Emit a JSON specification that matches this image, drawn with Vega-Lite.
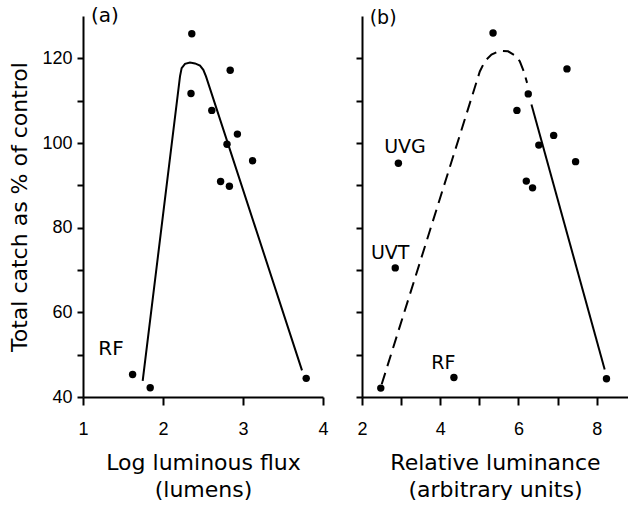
{
  "$schema": "https://vega.github.io/schema/vega-lite/v6.json",
  "background": "white",
  "padding": {"left": 8, "top": 6, "right": 0, "bottom": 0},
  "autosize": {"type": "pad"},
  "bounds": "flush",
  "spacing": 39,
  "config": {
    "view": {"stroke": null},
    "axis": {
      "domainColor": "black", "domainWidth": 2, "tickColor": "black", "tickWidth": 2,
      "labelFont": "Liberation Sans", "labelFontSize": 18, "labelColor": "black",
      "titleFont": "DejaVu Sans", "titleFontSize": 22, "titleFontWeight": "normal", "titleColor": "black",
      "grid": false
    },
    "axisX": {"tickSize": 8, "labelPadding": 15, "titlePadding": 14, "titleLineHeight": 27},
    "axisY": {"tickSize": 6, "labelPadding": 5, "titlePadding": 10},
    "text": {"font": "DejaVu Sans", "fontSize": 19, "color": "black"}
  },
  "datasets": {
    "ptsA": [
      {"x": 2.36, "y": 125.8}, {"x": 2.84, "y": 117.2}, {"x": 2.35, "y": 111.7}, {"x": 2.61, "y": 107.7},
      {"x": 2.93, "y": 102.1}, {"x": 2.80, "y": 99.7}, {"x": 3.12, "y": 95.8}, {"x": 2.72, "y": 90.9},
      {"x": 2.83, "y": 89.8}, {"x": 1.62, "y": 45.3}, {"x": 1.84, "y": 42.2}, {"x": 3.79, "y": 44.4}
    ],
    "lineA": [
      {"x": 1.746, "y": 43.8}, {"x": 2.2125, "y": 115.75}, {"x": 2.233, "y": 117.7}, {"x": 2.275, "y": 118.7},
      {"x": 2.3375, "y": 119.0}, {"x": 2.40, "y": 118.8}, {"x": 2.4625, "y": 118.3}, {"x": 2.504, "y": 117.3},
      {"x": 2.5375, "y": 115.75}, {"x": 3.7375, "y": 46.3}
    ],
    "labA": [
      {"x": 1.35, "y": 51.3, "t": "RF"}, {"x": 1.275, "y": 129.9, "t": "(a)"}
    ],
    "ptsB": [
      {"x": 5.35, "y": 126.0}, {"x": 7.24, "y": 117.5}, {"x": 6.25, "y": 111.6}, {"x": 5.96, "y": 107.7},
      {"x": 6.90, "y": 101.8}, {"x": 6.52, "y": 99.5}, {"x": 7.46, "y": 95.6}, {"x": 6.20, "y": 91.0},
      {"x": 6.36, "y": 89.4}, {"x": 2.93, "y": 95.2}, {"x": 2.85, "y": 70.5}, {"x": 4.35, "y": 44.6},
      {"x": 2.48, "y": 42.1}, {"x": 8.25, "y": 44.3}
    ],
    "dashB": [
      {"x": 2.503, "y": 43.0}, {"x": 5.012, "y": 116.9}, {"x": 5.14, "y": 119.3}, {"x": 5.31, "y": 120.9},
      {"x": 5.523, "y": 121.8}, {"x": 5.735, "y": 121.65}, {"x": 5.906, "y": 120.7}, {"x": 6.034, "y": 119.3},
      {"x": 6.136, "y": 116.9}, {"x": 6.22, "y": 114.2}
    ],
    "solidB": [
      {"x": 6.332, "y": 109.1}, {"x": 8.204, "y": 46.5}
    ],
    "labB": [
      {"x": 3.10, "y": 99.0, "t": "UVG"}, {"x": 2.72, "y": 74.0, "t": "UVT"},
      {"x": 4.08, "y": 48.1, "t": "RF"}, {"x": 2.54, "y": 129.5, "t": "(b)"}
    ]
  },
  "hconcat": [
    {
      "width": 240, "height": 381,
      "layer": [
        {
          "data": {"name": "lineA"},
          "mark": {"type": "line", "color": "black", "strokeWidth": 2},
          "encoding": {
            "x": {"field": "x", "type": "quantitative", "scale": {"domain": [1, 4], "nice": false},
                  "axis": {"values": [1, 2, 3, 4], "format": "d", "title": ["Log luminous flux", "(lumens)"], "labelFlush": false}},
            "y": {"field": "y", "type": "quantitative", "scale": {"domain": [40, 130], "nice": false, "zero": false},
                  "axis": {"values": [40, 50, 60, 70, 80, 90, 100, 110, 120],
                           "labelExpr": "datum.value % 20 == 0 ? datum.label : ''",
                           "title": "Total catch as % of control", "labelFlush": false}}
          }
        },
        {
          "data": {"name": "ptsA"},
          "mark": {"type": "circle", "color": "black", "size": 55, "opacity": 1},
          "encoding": {"x": {"field": "x", "type": "quantitative"}, "y": {"field": "y", "type": "quantitative"}}
        },
        {
          "data": {"name": "labA"},
          "mark": {"type": "text", "align": "center", "baseline": "middle", "fontSize": 20},
          "encoding": {"x": {"field": "x", "type": "quantitative"}, "y": {"field": "y", "type": "quantitative"},
                       "text": {"field": "t"}}
        }
      ]
    },
    {
      "width": 266, "height": 381,
      "layer": [
        {
          "data": {"name": "dashB"},
          "mark": {"type": "line", "color": "black", "strokeWidth": 2, "strokeDash": [12, 7]},
          "encoding": {
            "x": {"field": "x", "type": "quantitative", "scale": {"domain": [2, 8.8], "nice": false, "zero": false},
                  "axis": {"values": [2, 3, 4, 5, 6, 7, 8], "format": "d",
                           "labelExpr": "datum.value % 2 == 0 ? datum.label : ''",
                           "title": ["Relative luminance", "(arbitrary units)"], "labelFlush": false}},
            "y": {"field": "y", "type": "quantitative", "scale": {"domain": [40, 130], "nice": false, "zero": false},
                  "axis": {"values": [40, 50, 60, 70, 80, 90, 100, 110, 120], "labels": false, "title": null}}
          }
        },
        {
          "data": {"name": "solidB"},
          "mark": {"type": "line", "color": "black", "strokeWidth": 2},
          "encoding": {"x": {"field": "x", "type": "quantitative"}, "y": {"field": "y", "type": "quantitative"}}
        },
        {
          "data": {"name": "ptsB"},
          "mark": {"type": "circle", "color": "black", "size": 55, "opacity": 1},
          "encoding": {"x": {"field": "x", "type": "quantitative"}, "y": {"field": "y", "type": "quantitative"}}
        },
        {
          "data": {"name": "labB"},
          "mark": {"type": "text", "align": "center", "baseline": "middle"},
          "encoding": {"x": {"field": "x", "type": "quantitative"}, "y": {"field": "y", "type": "quantitative"},
                       "text": {"field": "t", "type": "nominal"}}
        }
      ]
    }
  ]
}
